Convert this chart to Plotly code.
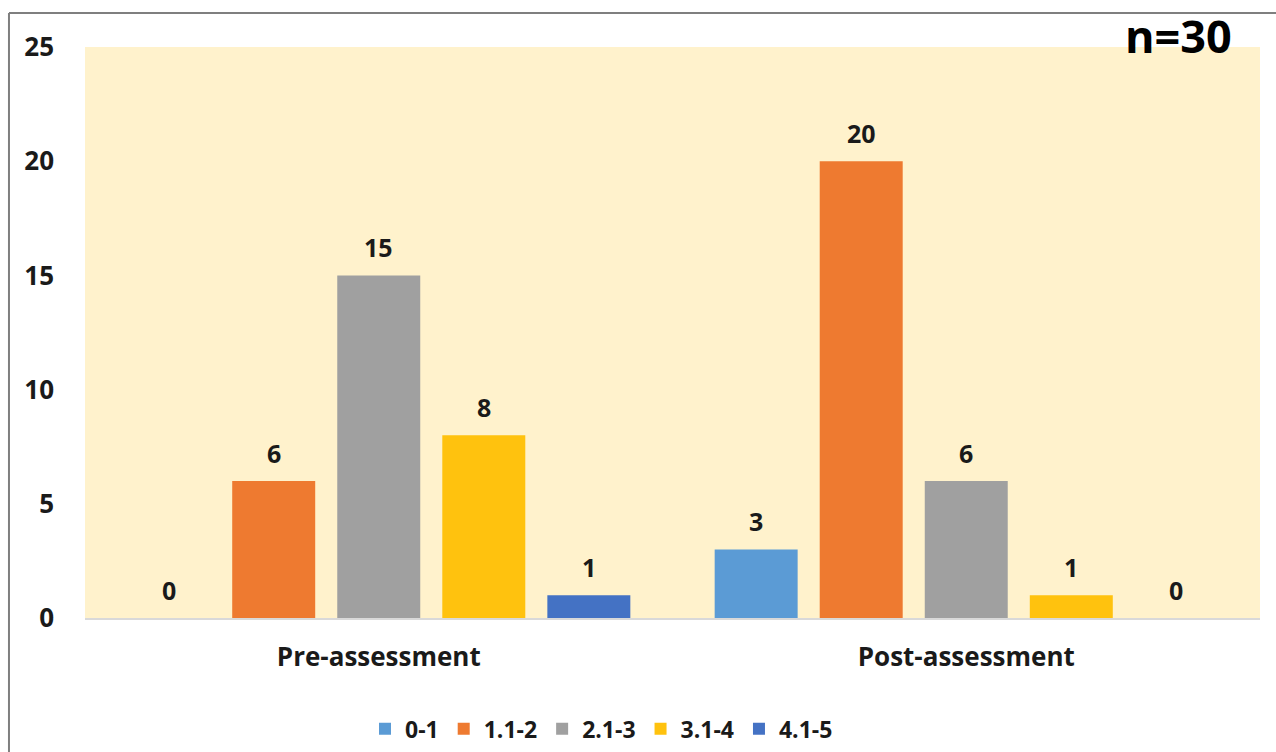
import plotly.graph_objects as go

# Score bands and counts per assessment
categories = ["Pre-assessment", "Post-assessment"]
bands = ["0-1", "1.1-2", "2.1-3", "3.1-4", "4.1-5"]
counts = {
    "0-1": [0, 3],
    "1.1-2": [6, 20],
    "2.1-3": [15, 6],
    "3.1-4": [8, 1],
    "4.1-5": [1, 0],
}
band_colors = ["#5B9BD5", "#EE7A30", "#A0A0A0", "#FFC20E", "#4472C4"]
y_ticks = [0, 5, 10, 15, 20, 25]
sample_note = "n=30"

FONT = "Open Sans"
BARGAP = 0.106

fig = go.Figure()
for band, color in zip(bands, band_colors):
    fig.add_trace(go.Bar(
        name=band,
        x=categories,
        y=counts[band],
        marker=dict(color=color, line=dict(width=0)),
    ))

# Value labels above each bar, placed at the bar's own offset within its group
n = len(bands)
slot = (1 - BARGAP) / n
for i, band in enumerate(bands):
    for j, v in enumerate(counts[band]):
        fig.add_annotation(
            x=j + (i - (n - 1) / 2) * slot, y=v,
            xref="x", yref="y",
            text=str(v), showarrow=False,
            yanchor="bottom", yshift=9,
            font=dict(family=FONT, size=25, color="#1a1a1a", weight="bold"),
        )

fig.add_annotation(
    x=0.978, y=1.0, xref="paper", yref="paper",
    text=sample_note, showarrow=False,
    xanchor="right", yanchor="middle", yshift=12,
    font=dict(family=FONT, size=45, color="#000000", weight="bold"),
)

# Frame lines along the top and left edge of the figure
fig.add_shape(type="line", xref="paper", yref="paper",
              x0=-0.0647, x1=1.02, y0=1.0595, y1=1.0595,
              line=dict(color="#7F7F7F", width=2))
fig.add_shape(type="line", xref="paper", yref="paper",
              x0=-0.0647, x1=-0.0647, y0=-0.25, y1=1.0595,
              line=dict(color="#7F7F7F", width=2))

fig.update_layout(
    width=1276, height=752,
    margin=dict(l=85, r=16, t=47, b=134, autoexpand=False),
    paper_bgcolor="#FFFFFF",
    plot_bgcolor="#FFF2CC",
    barmode="group",
    bargap=BARGAP,
    bargroupgap=0.21,
    font=dict(family=FONT, color="#1a1a1a"),
    legend=dict(
        orientation="h", x=0.2383, xanchor="left",
        y=-0.194, yanchor="middle",
        font=dict(family=FONT, size=23, color="#1a1a1a", weight="bold"),
        itemclick=False,
    ),
    showlegend=True,
)
fig.update_xaxes(
    type="category", automargin=False,
    showgrid=False, zeroline=False,
    showline=True, linecolor="#D9D9D9", linewidth=2,
    ticks="", ticklabelstandoff=15,
    tickfont=dict(family=FONT, size=26, color="#1a1a1a", weight="bold"),
)
fig.update_yaxes(
    range=[0, 25], tickvals=y_ticks, automargin=False,
    showgrid=False, zeroline=False, showline=False,
    ticks="", ticklabelstandoff=30,
    tickfont=dict(family=FONT, size=26, color="#1a1a1a", weight="bold"),
)

fig.write_html("out.html")
